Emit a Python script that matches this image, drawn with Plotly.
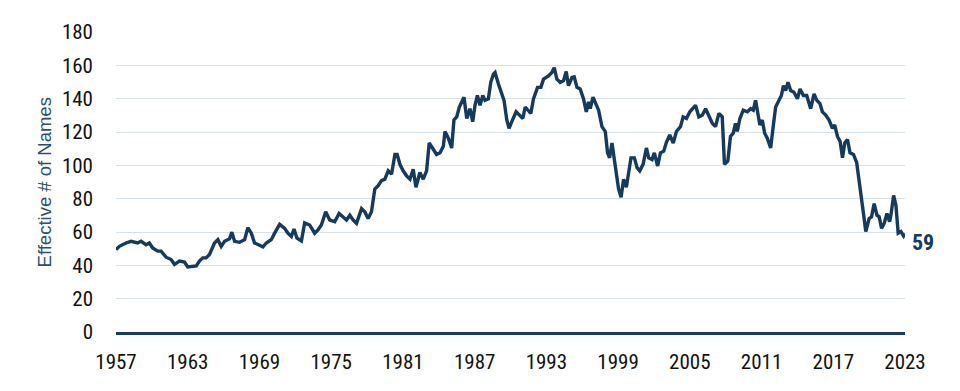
import plotly.graph_objects as go

years = [1957.0, 1957.28, 1957.84, 1958.26, 1958.81, 1959.10, 1959.51, 1959.79, 1960.07, 1960.49,
         1960.77, 1961.19, 1961.61, 1961.89, 1962.31, 1962.73, 1963.00, 1963.42, 1963.71, 1963.98,
         1964.26, 1964.54, 1964.82, 1965.24, 1965.52, 1965.80, 1966.08, 1966.50, 1966.69, 1966.92,
         1967.34, 1967.76, 1968.03, 1968.32, 1968.59, 1969.01, 1969.29, 1969.57, 1969.99, 1970.27,
         1970.69, 1971.11, 1971.38, 1971.67, 1971.89, 1972.14, 1972.51, 1972.78, 1973.20, 1973.62,
         1973.90, 1974.18, 1974.54, 1974.88, 1975.30, 1975.66, 1975.99, 1976.28, 1976.56, 1976.83,
         1977.12, 1977.54, 1977.81, 1978.09, 1978.37, 1978.65, 1978.93, 1979.21, 1979.49, 1979.77,
         1980.05, 1980.33, 1980.52, 1980.75, 1981.02, 1981.31, 1981.59, 1981.86, 1982.09, 1982.42,
         1982.70, 1982.98, 1983.20, 1983.54, 1983.82, 1984.10, 1984.38, 1984.52, 1984.80, 1985.08,
         1985.27, 1985.50, 1985.72, 1985.92, 1986.11, 1986.34, 1986.61, 1986.84, 1987.03, 1987.23,
         1987.45, 1987.68, 1987.87, 1988.15, 1988.35, 1988.57, 1988.71, 1988.99, 1989.27, 1989.46,
         1989.69, 1989.88, 1990.11, 1990.47, 1990.75, 1991.03, 1991.23, 1991.50, 1991.70, 1991.92,
         1992.26, 1992.54, 1992.76, 1993.18, 1993.46, 1993.66, 1993.88, 1994.16, 1994.44, 1994.66,
         1994.85, 1995.14, 1995.33, 1995.56, 1995.83, 1996.11, 1996.34, 1996.53, 1996.67, 1996.90,
         1997.18, 1997.37, 1997.65, 1997.93, 1998.12, 1998.29, 1998.49, 1998.68, 1998.85, 1999.04,
         1999.25, 1999.46, 1999.69, 1999.88, 2000.08, 2000.36, 2000.59, 2000.81, 2001.09, 2001.37,
         2001.56, 2001.84, 2002.03, 2002.31, 2002.54, 2002.82, 2003.04, 2003.32, 2003.61, 2003.88,
         2004.22, 2004.44, 2004.72, 2005.00, 2005.48, 2005.75, 2006.04, 2006.32, 2006.59, 2006.88,
         2007.15, 2007.43, 2007.71, 2007.90, 2008.18, 2008.40, 2008.63, 2008.82, 2008.97, 2009.19,
         2009.47, 2009.81, 2010.09, 2010.31, 2010.50, 2010.70, 2010.86, 2011.06, 2011.26, 2011.48,
         2011.76, 2011.99, 2012.18, 2012.46, 2012.66, 2012.83, 2013.02, 2013.21, 2013.44, 2013.71,
         2014.00, 2014.22, 2014.50, 2014.78, 2015.11, 2015.39, 2015.62, 2015.89, 2016.09, 2016.37,
         2016.65, 2016.93, 2017.12, 2017.35, 2017.57, 2017.77, 2017.96, 2018.19, 2018.40, 2018.69,
         2018.96, 2019.16, 2019.36, 2019.58, 2019.72, 2020.00, 2020.20, 2020.42, 2020.65, 2020.84,
         2021.04, 2021.26, 2021.49, 2021.71, 2021.82, 2022.05, 2022.24, 2022.43, 2022.66, 2022.88,
         2023.0]

effective_names = [49.4, 51.4, 53.4, 54.4, 53.4, 54.4, 52.4, 53.4, 50.4, 48.5,
                   48.5, 44.9, 43.5, 40.6, 42.6, 42.0, 39.0, 39.6, 39.6, 42.6,
                   44.5, 44.5, 46.5, 53.4, 55.4, 51.4, 54.4, 55.9, 59.9, 54.4,
                   53.8, 55.4, 62.6, 59.3, 53.4, 52.0, 51.0, 53.4, 55.4, 59.3,
                   64.6, 62.2, 59.3, 57.3, 61.8, 56.3, 54.6, 65.5, 64.2, 59.3,
                   61.3, 64.2, 72.1, 67.2, 66.2, 71.1, 69.1, 67.2, 70.1, 67.2,
                   65.2, 74.0, 72.1, 68.1, 72.1, 85.8, 87.8, 90.8, 91.7, 96.7,
                   94.7, 106.5, 106.5, 100.6, 96.7, 93.7, 91.7, 97.6, 86.8, 95.7,
                   91.7, 96.7, 113.4, 109.5, 106.5, 107.5, 111.4, 120.3, 116.3, 110.4,
                   127.2, 129.1, 135.0, 138.0, 140.9, 128.1, 134.0, 126.2, 136.0, 141.9,
                   136.0, 141.9, 139.0, 139.9, 149.8, 154.7, 155.7, 148.8, 142.9, 139.0,
                   127.2, 122.2, 126.2, 132.1, 130.1, 128.1, 135.0, 133.1, 131.1, 139.9,
                   146.8, 146.8, 151.7, 153.7, 155.7, 158.6, 151.7, 149.8, 150.8, 156.3,
                   147.8, 152.7, 153.1, 146.8, 145.8, 139.9, 132.1, 138.0, 134.0, 140.9,
                   136.0, 133.1, 123.2, 120.3, 107.5, 104.5, 113.4, 103.5, 95.7, 85.8,
                   80.9, 91.7, 86.8, 95.7, 104.5, 104.5, 98.6, 96.7, 100.6, 110.4,
                   104.5, 103.5, 107.5, 99.6, 107.5, 108.5, 113.8, 118.3, 113.4, 120.3,
                   123.2, 129.1, 128.1, 132.1, 136.0, 129.1, 130.1, 134.0, 130.0, 125.2,
                   123.2, 131.1, 129.1, 100.6, 102.6, 117.3, 119.3, 125.2, 120.3, 128.1,
                   133.1, 132.1, 134.0, 133.1, 139.0, 129.1, 124.2, 127.2, 119.3, 116.3,
                   110.4, 124.2, 135.0, 139.0, 141.9, 147.8, 144.9, 149.8, 144.9, 143.9,
                   139.9, 145.8, 141.9, 141.9, 134.0, 142.9, 139.0, 137.0, 132.1, 130.1,
                   127.2, 122.2, 124.2, 117.3, 114.4, 104.5, 113.4, 115.4, 107.5, 106.5,
                   101.6, 90.8, 78.0, 68.1, 60.3, 68.1, 69.1, 77.0, 70.1, 69.1,
                   62.2, 65.2, 71.1, 66.2, 70.1, 81.9, 76.0, 59.3, 60.3, 57.6,
                   59.0]

tick_years = [1957, 1963, 1969, 1975, 1981, 1987, 1993, 1999, 2005, 2011, 2017, 2023]
tick_labels = [str(y) for y in tick_years]
y_ticks = [0, 20, 40, 60, 80, 100, 120, 140, 160, 180]
last_label = "59"

NAVY = "#163A5E"
FONT = "Roboto Condensed, DejaVu Sans Condensed, Liberation Sans Narrow, Arial Narrow, Roboto, sans-serif"

fig = go.Figure()
fig.add_trace(go.Scatter(
    x=years, y=effective_names, mode="lines",
    line=dict(color=NAVY, width=3.4),
    hoverinfo="skip", showlegend=False,
))

fig.add_annotation(
    x=years[-1], y=effective_names[-1], xref="x", yref="y",
    text="<b>" + last_label + "</b>", showarrow=False,
    xanchor="left", yanchor="middle", xshift=5, yshift=-9,
    font=dict(family=FONT, size=22, color=NAVY),
)

fig.add_annotation(
    x=-0.0907, y=0.5, xref="paper", yref="paper",
    text="Effective # of Names", showarrow=False, textangle=-90,
    xanchor="center", yanchor="middle",
    font=dict(family="Liberation Sans, Arial, sans-serif", size=18.5, color="#2B4E74"),
)

# the page body carries an 8px default margin, so the figure is sized to fit inside it
fig.update_layout(
    width=952, height=383,
    margin=dict(l=108, r=55, t=18, b=59),
    paper_bgcolor="white", plot_bgcolor="white",
    font=dict(family=FONT, size=21, color="#111111"),
    xaxis=dict(
        range=[1957, 2023], tickvals=tick_years, ticktext=tick_labels,
        showgrid=False, zeroline=False, showline=True,
        linecolor="#1B3D60", linewidth=2.5, ticks="",
        ticklabelstandoff=9,
    ),
    yaxis=dict(
        range=[0, 180], tickvals=y_ticks,
        showgrid=True, gridcolor="#D6E1EA", gridwidth=1.3,
        zeroline=False, showline=False, ticks="",
        ticklabelstandoff=22,
    ),
)

fig.write_html("out.html")
